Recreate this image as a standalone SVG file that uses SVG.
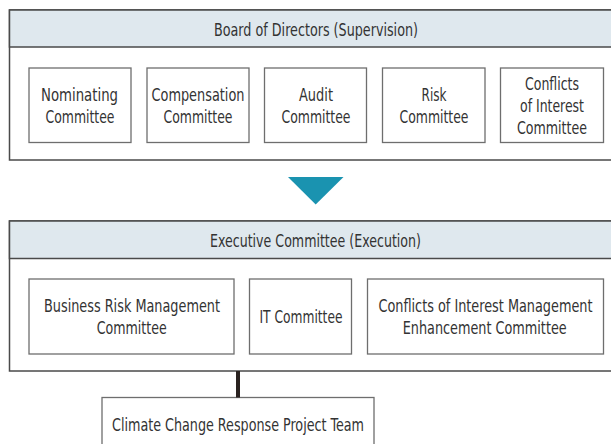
<svg xmlns="http://www.w3.org/2000/svg" width="611" height="444" viewBox="0 0 611 444">
  <style>
    .panel { fill: #ffffff; stroke: #4a4a4a; stroke-width: 1.5; }
    .band { fill: #dfe8ee; stroke: #4a4a4a; stroke-width: 1.5; }
    .box { fill: #ffffff; stroke: #6e6e6e; stroke-width: 1.3; }
    text { font-family: "DejaVu Sans Condensed", "DejaVu Sans", "Liberation Sans", sans-serif; font-stretch: condensed; font-size: 17px; fill: #333333; text-anchor: middle; }
  </style>
  <rect width="611" height="444" fill="#ffffff"/>

  <!-- Board of Directors panel -->
  <g id="board">
    <rect class="panel" x="9.5" y="10" width="640" height="150"/>
    <rect class="band" x="9.5" y="10" width="640" height="37"/>
    <text x="316" y="35.5" textLength="204" lengthAdjust="spacingAndGlyphs">Board of Directors (Supervision)</text>
  </g>
  <g id="nominating">
    <rect class="box" x="29" y="68" width="102" height="74.5"/>
    <text x="79.5" y="100.5" textLength="77" lengthAdjust="spacingAndGlyphs">Nominating</text>
    <text x="80" y="122.5" textLength="69" lengthAdjust="spacingAndGlyphs">Committee</text>
  </g>
  <g id="compensation">
    <rect class="box" x="147" y="68" width="102" height="74.5"/>
    <text x="198" y="100.5" textLength="93" lengthAdjust="spacingAndGlyphs">Compensation</text>
    <text x="198" y="122.5" textLength="69" lengthAdjust="spacingAndGlyphs">Committee</text>
  </g>
  <g id="audit">
    <rect class="box" x="264.5" y="68" width="102" height="74.5"/>
    <text x="316" y="100.5" textLength="34" lengthAdjust="spacingAndGlyphs">Audit</text>
    <text x="316" y="122.5" textLength="69" lengthAdjust="spacingAndGlyphs">Committee</text>
  </g>
  <g id="risk">
    <rect class="box" x="382.5" y="68" width="102.5" height="74.5"/>
    <text x="434" y="100.5" textLength="25" lengthAdjust="spacingAndGlyphs">Risk</text>
    <text x="434" y="122.5" textLength="69" lengthAdjust="spacingAndGlyphs">Committee</text>
  </g>
  <g id="conflicts">
    <rect class="box" x="500.5" y="68" width="103" height="74.5"/>
    <text x="552" y="89.5" textLength="54" lengthAdjust="spacingAndGlyphs">Conflicts</text>
    <text x="552" y="111.5" textLength="64" lengthAdjust="spacingAndGlyphs">of Interest</text>
    <text x="552" y="133.5" textLength="70" lengthAdjust="spacingAndGlyphs">Committee</text>
  </g>

  <!-- Executive Committee panel -->
  <g id="executive">
    <rect class="panel" x="9.5" y="221" width="640" height="150"/>
    <rect class="band" x="9.5" y="221" width="640" height="37.5"/>
    <text x="315.5" y="246.5" textLength="211" lengthAdjust="spacingAndGlyphs">Executive Committee (Execution)</text>
  </g>
  <g id="business-risk">
    <rect class="box" x="29" y="279" width="205" height="75"/>
    <text x="132" y="311.5" textLength="176" lengthAdjust="spacingAndGlyphs">Business Risk Management</text>
    <text x="131.7" y="334" textLength="70" lengthAdjust="spacingAndGlyphs">Committee</text>
  </g>
  <g id="it">
    <rect class="box" x="249.5" y="279" width="102" height="75"/>
    <text x="301" y="323" textLength="83" lengthAdjust="spacingAndGlyphs">IT Committee</text>
  </g>
  <g id="coi-management">
    <rect class="box" x="367.5" y="279" width="236" height="75"/>
    <text x="485.5" y="311.5" textLength="214" lengthAdjust="spacingAndGlyphs">Conflicts of Interest Management</text>
    <text x="484.7" y="334" textLength="164" lengthAdjust="spacingAndGlyphs">Enhancement Committee</text>
  </g>

  <g id="climate">
    <rect class="box" x="102" y="397.5" width="272" height="60"/>
    <text x="238" y="430.5" textLength="252" lengthAdjust="spacingAndGlyphs">Climate Change Response Project Team</text>
  </g>

  <!-- connectors -->
  <g id="connectors">
    <polygon points="288,177 343.5,177 315.7,204.5" fill="#1a93b0"/>
    <line x1="238" y1="371" x2="238" y2="397.5" stroke="#2a2220" stroke-width="4"/>
  </g>
</svg>
